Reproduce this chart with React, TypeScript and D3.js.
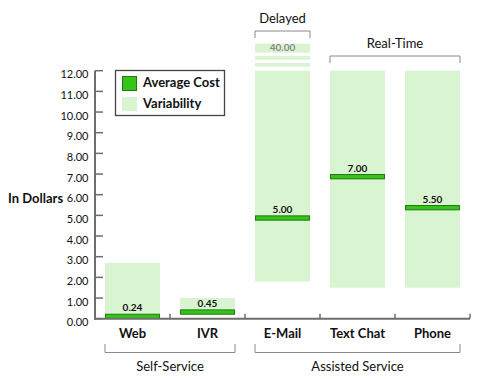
import React from "react";
import * as d3 from "d3";

const categories = ["Web", "IVR", "E-Mail", "Text Chat", "Phone"];
const averageCost = [0.24, 0.45, 5.0, 7.0, 5.5];
const averageLabels = ["0.24", "0.45", "5.00", "7.00", "5.50"];
const variabilityLow = [0, 0.22, 1.8, 1.5, 1.5];
const variabilityHigh = [2.7, 1.0, 40.0, 12.0, 12.0];
const yTicks = [0, 1, 2, 3, 4, 5, 6, 7, 8, 9, 10, 11, 12];
const bottomGroups = [
  { label: "Self-Service", from: "Web", to: "IVR" },
  { label: "Assisted Service", from: "E-Mail", to: "Phone" },
];
const topGroups = [
  { label: "Delayed", from: "E-Mail", to: "E-Mail", level: 0 },
  { label: "Real-Time", from: "Text Chat", to: "Phone", level: 1 },
];

const W = 482;
const H = 379;
const FONT = "Lato, 'Open Sans', sans-serif";
const LIGHT = "#d9f4d0";
const GREEN = "#35c41a";
const GREEN_DARK = "#1f7a10";
const AXIS = "#6e6e6e";

export default function App() {
  const yMax = 12;
  const y = d3.scaleLinear().domain([0, yMax]).range([318.7, 70.7]);
  const x = d3.scaleBand<string>().domain(categories).range([95, 470]).padding(0);
  const barW = x.bandwidth() * 0.733;
  const barX = (c: string) => (x(c) as number) + (x.bandwidth() - barW) / 2;
  const axisY = y(0);

  return (
    <svg
      width={W}
      height={H}
      style={{ position: "absolute", left: 0, top: 0, background: "#fff" }}
      fontFamily={FONT}
    >
      {/* variability */}
      {categories.map((c, i) => {
        const hi = Math.min(variabilityHigh[i], yMax);
        const bx = barX(c);
        const top = y(hi);
        const broken = variabilityHigh[i] > yMax;
        return (
          <g key={"v" + c}>
            <rect x={bx} y={top} width={barW} height={y(variabilityLow[i]) - top} fill={LIGHT} />
            {broken && (
              <g>
                <rect x={bx} y={top - 7.7} width={barW} height={3.7} fill={LIGHT} />
                <rect x={bx} y={top - 14.7} width={barW} height={3.7} fill={LIGHT} />
                <rect x={bx} y={top - 27} width={barW} height={9} fill={LIGHT} />
                <text
                  x={bx + barW / 2}
                  y={top - 19.8}
                  textAnchor="middle"
                  fontSize={10}
                  fontWeight="bold"
                  fill="#8a8a8a"
                >
                  {variabilityHigh[i].toFixed(2)}
                </text>
              </g>
            )}
          </g>
        );
      })}

      {/* average cost bars */}
      {categories.map((c, i) => {
        const bx = barX(c);
        const top = y(averageCost[i]);
        return (
          <g key={"a" + c}>
            <rect
              x={bx + 0.5}
              y={top + 0.5}
              width={barW - 1}
              height={4.3}
              fill={GREEN}
              stroke={GREEN_DARK}
              strokeWidth={1}
            />
            <text
              x={bx + barW / 2}
              y={top - 2.5}
              textAnchor="middle"
              fontSize={10}
              fontWeight="bold"
              fill="#111"
            >
              {averageLabels[i]}
            </text>
          </g>
        );
      })}

      {/* y axis */}
      <line x1={95} x2={95} y1={y(yMax)} y2={axisY + 1} stroke={AXIS} strokeWidth={2} />
      {yTicks.map((t) => (
        <g key={"t" + t}>
          <line x1={95} x2={103} y1={y(t)} y2={y(t)} stroke={AXIS} strokeWidth={1.5} />
          <text x={88.5} y={y(t) + 7.5} textAnchor="end" fontSize={11} fill="#111">
            {t.toFixed(2)}
          </text>
        </g>
      ))}
      <text x={8} y={203} fontSize={13} fontWeight="bold" fill="#111">
        In Dollars
      </text>

      {/* x axis */}
      <line x1={94} x2={470} y1={axisY} y2={axisY} stroke={AXIS} strokeWidth={2} />
      {categories.map((c) => (
        <line
          key={"xt" + c}
          x1={(x(c) as number) + x.bandwidth()}
          x2={(x(c) as number) + x.bandwidth()}
          y1={axisY}
          y2={axisY - 5}
          stroke={AXIS}
          strokeWidth={1.5}
        />
      ))}
      {categories.map((c) => (
        <text
          key={"xl" + c}
          x={barX(c) + barW / 2}
          y={338}
          textAnchor="middle"
          fontSize={13}
          fontWeight="bold"
          fill="#111"
        >
          {c}
        </text>
      ))}

      {/* bottom group brackets */}
      {bottomGroups.map((g) => {
        const x0 = barX(g.from);
        const x1 = barX(g.to) + barW;
        return (
          <g key={g.label}>
            <path
              d={`M${x0},344 V352.5 H${x1} V344`}
              fill="none"
              stroke="#8a8a8a"
              strokeWidth={1}
            />
            <text x={(x0 + x1) / 2} y={371} textAnchor="middle" fontSize={13} fill="#111">
              {g.label}
            </text>
          </g>
        );
      })}

      {/* top group brackets */}
      {topGroups.map((g) => {
        const x0 = barX(g.from);
        const x1 = barX(g.to) + barW;
        const ly = g.level === 0 ? 31 : 56;
        return (
          <g key={g.label}>
            <path
              d={`M${x0},${ly + 7} V${ly} H${x1} V${ly + 7}`}
              fill="none"
              stroke="#8a8a8a"
              strokeWidth={1}
            />
            <text x={(x0 + x1) / 2} y={ly - 8} textAnchor="middle" fontSize={13} fill="#111">
              {g.label}
            </text>
          </g>
        );
      })}

      {/* legend */}
      <rect x={115.5} y={70.5} width={109} height={45} fill="#fff" stroke="#444" strokeWidth={1.3} />
      <rect x={122.5} y={76.5} width={14} height={14} fill={GREEN} stroke={GREEN_DARK} strokeWidth={1} />
      <text x={143} y={87} fontSize={13} fontWeight="bold" fill="#111">
        Average Cost
      </text>
      <rect x={122} y={97} width={15} height={14} fill={LIGHT} />
      <text x={143} y={108} fontSize={13} fontWeight="bold" fill="#111">
        Variability
      </text>
    </svg>
  );
}
